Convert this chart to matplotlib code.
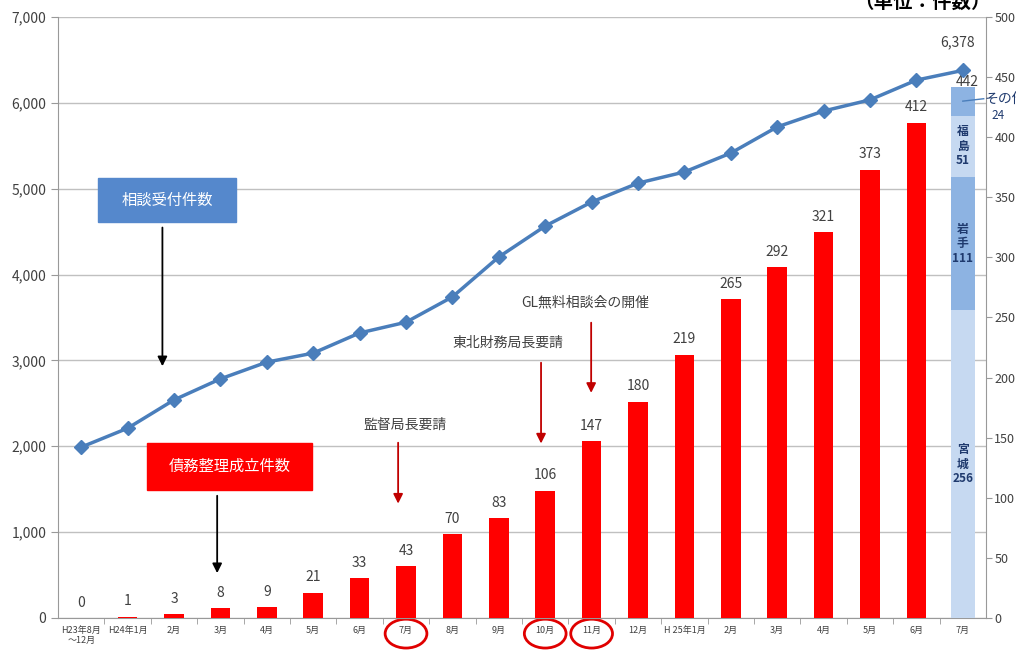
import matplotlib
matplotlib.use("Agg")
import matplotlib.pyplot as plt
from matplotlib.patches import Rectangle, Ellipse
from matplotlib.transforms import blended_transform_factory

plt.rcParams['font.family'] = ['Noto Sans CJK JP', 'DejaVu Sans']

# data
months = ["H23年8月\n～12月", "H24年1月", "2月", "3月", "4月", "5月", "6月", "7月",
          "8月", "9月", "10月", "11月", "12月", "H 25年1月", "2月", "3月", "4月",
          "5月", "6月", "7月"]
consult = [1990, 2210, 2540, 2785, 2980, 3085, 3320, 3445, 3740, 4205,
           4565, 4845, 5065, 5195, 5415, 5720, 5905, 6035, 6265, 6378]
settled = [0, 1, 3, 8, 9, 21, 33, 43, 70, 83, 106, 147, 180, 219, 265, 292, 321, 373, 412]
pref_names = ["宮城", "岩手", "福島", "その他"]
pref_vals = [256, 111, 51, 24]

txt_col = "#404040"
grid_col = "#c0c0c0"

fig = plt.figure(figsize=(10.16, 6.51), dpi=100)
ax = fig.add_axes([0.0571, 0.0507, 0.9134, 0.9232])
ax2 = ax.twinx()
ax3 = fig.add_axes(ax.get_position(), sharex=ax, sharey=ax)
ax3.patch.set_visible(False)
ax3.axis("off")

n = len(months)
x = list(range(n))

# left axis (consultations) + grid
ax.set_xlim(-0.5, n - 0.5)
ax.set_ylim(0, 7000)
ax.set_yticks(range(0, 7001, 1000))
ax.set_yticklabels([f"{v:,}" for v in range(0, 7001, 1000)])
ax.yaxis.grid(True, color=grid_col, lw=1)
ax.set_axisbelow(True)
for s in ["top", "right"]:
    ax.spines[s].set_visible(False)
ax.spines["left"].set_color("#999999")
ax.spines["bottom"].set_color("#999999")
ax.tick_params(axis="y", colors="#999999", labelcolor=txt_col, labelsize=10, length=5)
ax.set_xticks(x)
ax.set_xticklabels(months, fontsize=6.5, color=txt_col, linespacing=1.1)
ax.set_xticks([i - 0.5 for i in range(1, n)], minor=True)
ax.tick_params(axis="x", which="major", length=0, pad=6)
ax.tick_params(axis="x", which="minor", length=4, colors="#999999")

# right axis (settlements)
ax2.set_ylim(0, 500)
ax2.set_yticks(range(0, 501, 50))
for s in ["top", "left", "bottom"]:
    ax2.spines[s].set_visible(False)
ax2.spines["right"].set_color("#999999")
ax2.tick_params(axis="y", colors="#999999", labelcolor=txt_col, labelsize=9, length=4, pad=2)

bars = ax2.bar(x[:len(settled)], settled, width=0.42, color="#ff0000")
for xi, v in zip(x, settled):
    ax2.annotate(str(v), (xi, v), xytext=(0, 6), textcoords="offset points",
                 ha="center", va="bottom", fontsize=10, color=txt_col)

# stacked last bar
seg_cols = ["#c6d9f1", "#8db3e2", "#c6d9f1", "#8db3e2"]
bottom = 0
lx = n - 1
for name, v, c in zip(pref_names, pref_vals, seg_cols):
    ax2.bar(lx, v, bottom=bottom, width=0.52, color=c)
    mid = bottom + v / 2
    if name != "その他":
        ax2.text(lx, mid, "\n".join(name) + f"\n{v}", ha="center", va="center",
                 fontsize=8.5, color="#1f3a6e", fontweight="bold", linespacing=1.15)
    else:
        ax2.plot([lx, lx + 0.45], [mid, mid + 2], color="#4a7ebb", lw=1, clip_on=False)
        ax2.text(lx + 0.47, mid + 2, name, ha="left", va="center", fontsize=10,
                 color="#1f3a6e", clip_on=False)
        ax2.text(lx + 0.62, mid - 12, str(v), ha="left", va="center", fontsize=8.5,
                 color="#1f3a6e", clip_on=False)
    bottom += v
ax2.annotate(str(bottom), (lx, bottom), xytext=(3, -2), textcoords="offset points",
             ha="center", va="bottom", fontsize=10, color=txt_col)

# consultation line
ax3.plot(x, consult, color="#4a7ebb", lw=2.5, marker="D", markersize=7)
ax3.annotate(f"{consult[-1]:,}", (x[-1], consult[-1]), xytext=(-4, 15),
             textcoords="offset points", ha="center", va="bottom", fontsize=10, color=txt_col)

# label boxes with arrows
ax3.add_patch(Rectangle((0.37, 4613), 2.97, 513, color="#5588cc", zorder=5))
ax3.text(1.855, 4870, "相談受付件数", ha="center", va="center", color="white", fontsize=11, zorder=6)
ax3.annotate("", xy=(1.75, 2900), xytext=(1.75, 4580),
             arrowprops=dict(arrowstyle="-|>", color="black", lw=1.3, mutation_scale=14))

ax3.add_patch(Rectangle((1.42, 1491), 3.56, 548, color="#ff0000", zorder=5))
ax3.text(3.2, 1765, "債務整理成立件数", ha="center", va="center", color="white", fontsize=11, zorder=6)
ax3.annotate("", xy=(2.93, 490), xytext=(2.93, 1456),
             arrowprops=dict(arrowstyle="-|>", color="black", lw=1.3, mutation_scale=14))

notes = [("監督局長要請", 6.98, 2248, 6.83, 2074, 1300),
         ("東北財務局長要請", 9.2, 3204, 9.91, 3006, 2000),
         ("GL無料相談会の開催", 10.86, 3681, 10.99, 3472, 2590)]
for label, tx, ty, axx, y0, y1 in notes:
    ax3.text(tx, ty, label, ha="center", va="center", fontsize=10, color=txt_col)
    ax3.annotate("", xy=(axx, y1), xytext=(axx, y0),
                 arrowprops=dict(arrowstyle="-|>", color="#c00000", lw=1.3, mutation_scale=14))

# red circles around months
tr = blended_transform_factory(ax.transData, ax.transAxes)
for i in [7, 10, 11]:
    ax.add_patch(Ellipse((i, -0.026), 0.9, 0.048, transform=tr, fill=False,
                         edgecolor="#e00000", lw=2, clip_on=False))

fig.text(0.975, 0.997, "（単位：件数）", ha="right", va="center", fontsize=14,
         fontweight="bold", color="black")

fig.savefig("out.png", dpi=100)
